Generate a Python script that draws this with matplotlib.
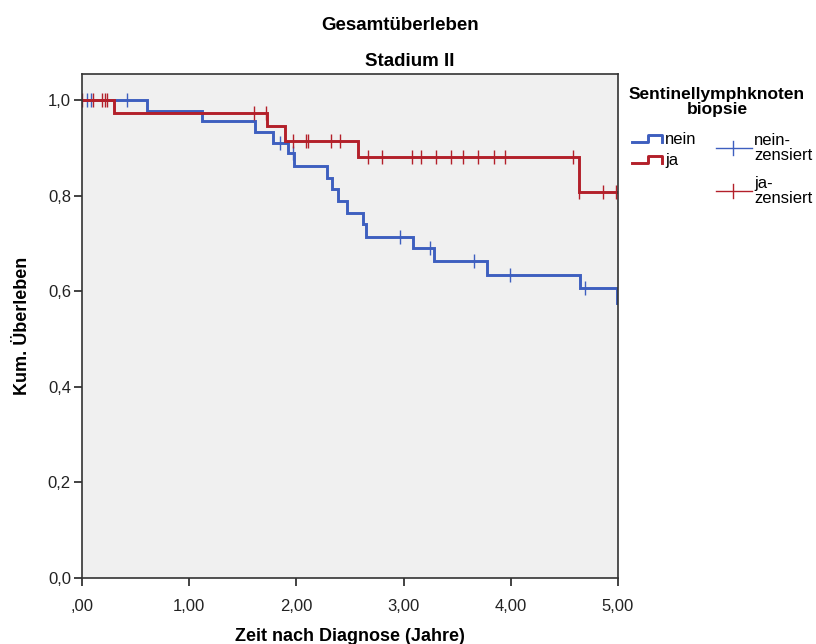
import matplotlib
matplotlib.use("Agg")
import matplotlib.pyplot as plt
import numpy as np
from matplotlib.lines import Line2D

plt.rcParams['font.family'] = ['Liberation Sans', 'DejaVu Sans']

# Kaplan-Meier steps
nein_t = [0, 0.61, 1.12, 1.61, 1.78, 1.92, 1.98, 2.29, 2.335, 2.385, 2.47, 2.62, 2.65, 3.09, 3.28, 3.78, 4.65, 4.99, 5.0]
nein_s = [1.0, 0.978, 0.956, 0.933, 0.911, 0.889, 0.863, 0.838, 0.814, 0.789, 0.765, 0.740, 0.714, 0.690, 0.664, 0.635, 0.608, 0.576, 0.576]
nein_cens = [0.05, 0.08, 0.42, 1.85, 1.97, 2.97, 3.25, 3.66, 3.99, 4.69]

ja_t = [0, 0.30, 1.73, 1.89, 2.57, 4.64, 5.0]
ja_s = [1.0, 0.974, 0.946, 0.915, 0.881, 0.807, 0.807]
ja_cens = [0.0, 0.10, 0.19, 0.21, 0.23, 1.60, 1.72, 1.965, 2.09, 2.11, 2.32, 2.41, 2.67, 2.80,
           3.075, 3.16, 3.30, 3.44, 3.55, 3.69, 3.84, 3.95, 4.58, 4.64, 4.86, 4.98]

xticks = [0, 1, 2, 3, 4, 5]
xlabels = [",00", "1,00", "2,00", "3,00", "4,00", "5,00"]
yticks = [0, 0.2, 0.4, 0.6, 0.8, 1.0]
ylabels = ["0,0", "0,2", "0,4", "0,6", "0,8", "1,0"]

blue = "#3E5FBF"
red = "#B3202A"

fig = plt.figure(figsize=(8.16, 6.44), dpi=100)
W, H = 816, 644
ax = fig.add_axes([82 / W, 1 - 578 / H, (618 - 82) / W, (578 - 74) / H])
ax.set_facecolor("#F0F0F0")


def level(ts, ss, c):
    i = np.searchsorted(ts, c, side="right") - 1
    return np.array(ss)[i]


for ts, ss, cens, col in [(nein_t, nein_s, nein_cens, blue), (ja_t, ja_s, ja_cens, red)]:
    ax.step(ts, ss, where="post", color=col, lw=2.1, solid_joinstyle="miter")
    ax.plot(cens, level(ts, ss, cens), ls="none", marker="|", ms=10, mew=1.0, color=col)

ax.set_xlim(0, 5)
ax.set_ylim(0, 1.055)
ax.set_xticks(xticks)
ax.set_xticklabels(xlabels)
ax.set_yticks(yticks)
ax.set_yticklabels(ylabels)
ax.tick_params(direction="out", length=6, width=1.2, labelsize=12, colors="#222222")
ax.tick_params(axis="x", pad=9)
ax.tick_params(axis="y", pad=2)
for sp in ax.spines.values():
    sp.set_color("#333333")
    sp.set_linewidth(1.2)

ax.set_xlabel("Zeit nach Diagnose (Jahre)", fontsize=13, fontweight="bold", labelpad=10)
ax.set_ylabel("Kum. Überleben", fontsize=13, fontweight="bold", labelpad=12)

fig.text(400 / W, 1 - 25 / H, "Gesamtüberleben", ha="center", va="center", fontsize=13.5, fontweight="bold")
fig.text(410 / W, 1 - 61 / H, "Stadium II", ha="center", va="center", fontsize=13.5, fontweight="bold")

# legend drawn by hand
fig.text(717 / W, 1 - 102 / H, "Sentinellymphknoten\nbiopsie", ha="center", va="center",
         fontsize=12.5, fontweight="bold", linespacing=0.92)
for dy, col, lab in [(0, blue, "nein"), (21, red, "ja")]:
    xs = np.array([632, 648, 648, 662, 662]) / W
    ys = 1 - (np.array([141.5, 141.5, 134.5, 134.5, 141.5]) + dy) / H
    fig.add_artist(Line2D(xs, ys, color=col, lw=2.1, transform=fig.transFigure))
    fig.text(665 / W, 1 - (140 + dy) / H, lab, ha="left", va="center", fontsize=12)
for yc, col, lab in [(148, blue, "nein-\nzensiert"), (191, red, "ja-\nzensiert")]:
    fig.add_artist(Line2D([716 / W, 752 / W], [1 - yc / H] * 2, color=col, lw=1, transform=fig.transFigure))
    fig.add_artist(Line2D([733 / W] * 2, [1 - (yc - 7) / H, 1 - (yc + 7) / H], color=col, lw=1,
                          transform=fig.transFigure))
    fig.text(754 / W, 1 - yc / H, lab, ha="left", va="center", fontsize=12, linespacing=0.95)

fig.savefig("out.png", dpi=100)
